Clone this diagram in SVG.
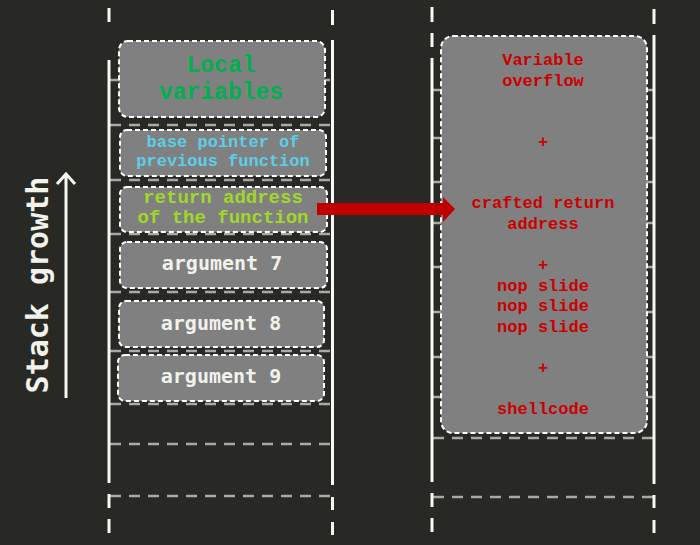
<svg xmlns="http://www.w3.org/2000/svg" width="700" height="545" viewBox="0 0 700 545">
<style>
.bg{fill:#282824}
.hl{stroke:#a9a9a6;stroke-width:2.5;stroke-dasharray:11 8;fill:none}
.vl{stroke:#f8f8f2;stroke-width:3;fill:none}
.box{fill:#808080;stroke:#ffffff;stroke-width:2;stroke-dasharray:5 3}
.t{font-family:"Liberation Mono","DejaVu Sans Mono",monospace;font-weight:bold;text-anchor:middle}
.w{font-family:"DejaVu Sans Mono","Liberation Mono",monospace;font-weight:bold;text-anchor:middle;fill:#f2f2ec}
.red{fill:#cc0000;font-size:17px}
</style>
<rect class="bg" x="0" y="0" width="700" height="545"/>
<g id="stack-left-lines">
<path class="hl" d="M110 80H331M110 125H331M110 180H331M110 234H331M110 292H331M110 351H331M110 404H331M110 444H331M110 496H331"/>
<path class="vl" d="M109 8V22M109 60V483M109 494V508M109 519V533"/>
<path class="vl" d="M332.5 10V25M332.5 40V485M332.5 497V510M332.5 522V535"/>
</g>
<g id="stack-right-lines">
<path class="hl" d="M433 90H653M433 138H653M433 182H653M433 223H653M433 267H653M433 312H653M433 357H653M433 397H653M433 438H653M433 497H653"/>
<path class="vl" d="M432 7V22M432 33V47M432 58V482M432 493V507M432 518V532"/>
<path class="vl" d="M654 9V24M654 35V484M654 495V508M654 520V533"/>
</g>
<g id="local-variables">
<rect class="box" x="119" y="41" width="206" height="76" rx="9"/>
<text class="t" x="221" y="72" font-size="23" fill="#00b050">Local</text>
<text class="t" x="221" y="99" font-size="23" fill="#00b050">variables</text>
</g>
<g id="base-pointer">
<rect class="box" x="120" y="130" width="206" height="46" rx="7"/>
<text class="t" x="223" y="147" font-size="17" fill="#5ccfe8">base pointer of</text>
<text class="t" x="223" y="166" font-size="17" fill="#5ccfe8">previous function</text>
</g>
<g id="return-address">
<rect class="box" x="120" y="187" width="207" height="45" rx="7"/>
<text class="t" x="223" y="203" font-size="19" fill="#a0d82a">return address</text>
<text class="t" x="223" y="223" font-size="19" fill="#a0d82a">of the function</text>
</g>
<g id="argument-7">
<rect class="box" x="120" y="242" width="207" height="46" rx="7"/>
<text class="w" x="222" y="270" font-size="20">argument 7</text>
</g>
<g id="argument-8">
<rect class="box" x="119" y="301" width="205" height="46" rx="7"/>
<text class="w" x="221" y="330" font-size="20">argument 8</text>
</g>
<g id="argument-9">
<rect class="box" x="118" y="355" width="206" height="46" rx="7"/>
<text class="w" x="221" y="383" font-size="20">argument 9</text>
</g>
<g id="overflow-payload">
<rect class="box" x="441" y="36" width="206" height="397" rx="12"/>
<text class="t red" x="543" y="65">Variable</text>
<text class="t red" x="543" y="85.5">overflow</text>
<text class="t red" x="543" y="147">+</text>
<text class="t red" x="543" y="208">crafted return</text>
<text class="t red" x="543" y="228.5">address</text>
<text class="t red" x="543" y="270">+</text>
<text class="t red" x="543" y="290.5">nop slide</text>
<text class="t red" x="543" y="311">nop slide</text>
<text class="t red" x="543" y="331.5">nop slide</text>
<text class="t red" x="543" y="372.5">+</text>
<text class="t red" x="543" y="413.5">shellcode</text>
</g>
<g id="stack-growth-label">
<text class="w" font-size="30" transform="translate(48 285) rotate(-90)">Stack growth</text>
</g>
<g id="connectors">
<path d="M66 398V175M57 184L66 174L75 184" fill="none" stroke="#f8f8f2" stroke-width="3"/>
<path d="M317 203H443V197L455 209L443 222V215H317Z" fill="#c00000"/>
</g>
</svg>
